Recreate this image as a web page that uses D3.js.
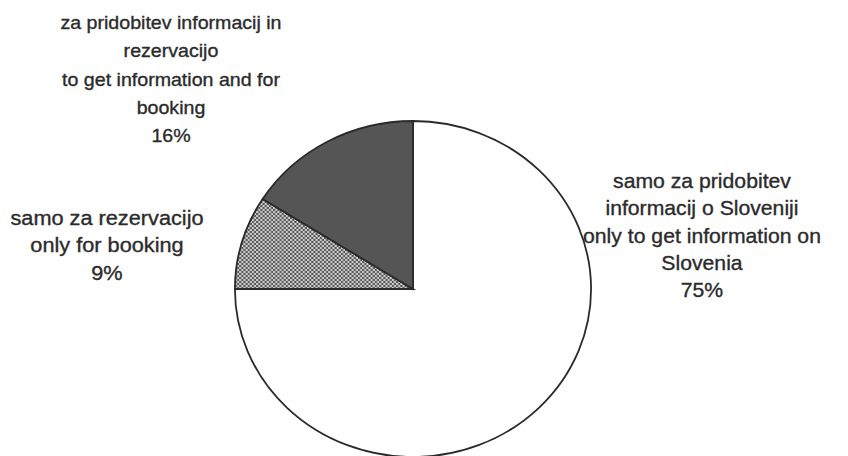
<!DOCTYPE html>
<html>
<head>
<meta charset="utf-8">
<script src="https://cdn.jsdelivr.net/npm/d3@7"></script>
<style>
  html, body { margin: 0; padding: 0; background: #fff; }
  svg { display: block; }
  text { font-family: "Liberation Sans", Arial, sans-serif; }
</style>
</head>
<body>
<svg id="chart" width="848" height="456"></svg>
<script>
// ---- data ----
const categories = ["only to get information on Slovenia", "only for booking", "to get information and for booking"];
const values = [75, 9, 16];
const labelsTop = ["za pridobitev informacij in", "rezervacijo", "to get information and for", "booking", "16%"];
const labelsLeft = ["samo za rezervacijo", "only for booking", "9%"];
const labelsRight = ["samo za pridobitev", "informacij o Sloveniji", "only to get information on", "Slovenia", "75%"];

// ---- layout ----
const W = 848, H = 456;
const sx = 1.06;              // horizontal stretch of the scanned original
const cx = 413, cy = 289, r = 168;

const svg = d3.select("#chart");
const defs = svg.append("defs");
const pat = defs.append("pattern")
  .attr("id", "checker").attr("patternUnits", "userSpaceOnUse")
  .attr("width", 4).attr("height", 4);
pat.append("rect").attr("width", 4).attr("height", 4).attr("fill", "#cfcfcf");
pat.append("rect").attr("x", 0).attr("y", 0).attr("width", 2).attr("height", 2).attr("fill", "#555");
pat.append("rect").attr("x", 2).attr("y", 2).attr("width", 2).attr("height", 2).attr("fill", "#555");

const fills = ["#ffffff", "url(#checker)", "#555555"];

const g = svg.append("g").attr("transform", `scale(${sx},1)`);

const pie = d3.pie().sort(null).value(d => d);
const arc = d3.arc().innerRadius(0).outerRadius(r);

g.append("g")
  .attr("transform", `translate(${cx / sx},${cy})`)
  .selectAll("path")
  .data(pie(values))
  .join("path")
  .attr("d", arc)
  .attr("fill", (d, i) => fills[i])
  .attr("stroke", "#2a2a2a")
  .attr("stroke-width", 1.8)
  .attr("stroke-linejoin", "miter")
  .attr("vector-effect", "non-scaling-stroke");

function drawLabel(lines, x, y0, dy, fs) {
  const t = g.append("text")
    .attr("text-anchor", "middle")
    .attr("font-size", fs)
    .attr("fill", "#2b2b2b")
    .attr("stroke", "#2b2b2b")
    .attr("stroke-width", 0.35);
  lines.forEach((s, i) => {
    t.append("tspan").attr("x", x / sx).attr("y", y0 + i * dy).text(s);
  });
}

drawLabel(labelsTop, 171, 29, 28.3, 18.5);
drawLabel(labelsLeft, 107, 225, 27.5, 20.5);
drawLabel(labelsRight, 702, 188, 27.3, 20);
</script>
</body>
</html>
